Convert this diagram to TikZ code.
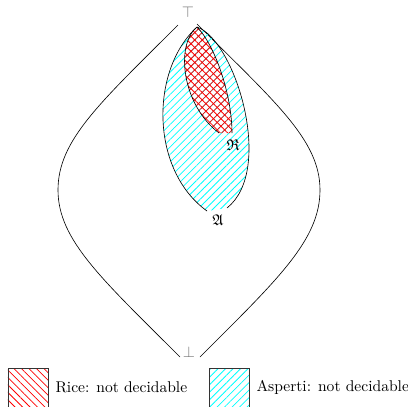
\documentclass[tikz,border=0pt]{standalone}
\usepackage{amssymb}
\usetikzlibrary{patterns.meta}

\tikzset{
	nwhatch/.style={pattern={Lines[angle=-45,distance=3.4pt,line width=0.5pt]}},
	nehatch/.style={pattern={Lines[angle=45,distance=3.4pt,line width=0.5pt]}},
	rice/.style={nwhatch,pattern color=red},
	asperti/.style={nehatch,pattern color=cyan},
	ricebox/.style={draw=black!80,rice},
	aspertibox/.style={draw=black!80,asperti},
	lattice/.style={text=black!55}
}

\begin{document}
\begin{tikzpicture}[x=0.642pt,y=-0.642pt]
			\useasboundingbox (0,0) rectangle (408,407);

			\node[lattice] (top) at (188,12) {$\top$};
			\node[lattice] (bot) at (189,352) {$\bot$};

			% the whole lattice
			\draw (178,25) .. controls (100,103) and (58,140) .. (58,190) .. controls (58,240) and (102,279) .. (180,357);
			\draw (197,24) .. controls (275,102) and (320,140) .. (320,190) .. controls (320,240) and (278,279) .. (200,357);

			% Asperti
			\fill[asperti] (197,27) .. controls (150,70) and (150,170) .. (207,211) -- (227,208) .. controls (275,170) and (235,40) .. (197,27);
			\draw (197,27) .. controls (150,70) and (150,170) .. (207,211);
			\draw (197,27) .. controls (235,40) and (275,170) .. (227,208);
			\node (A) at (218,220) {$\mathfrak{A}$};

			% Rice
			\fill[rice] (197,27) .. controls (175,45) and (182,105) .. (219,133) -- (232,133) .. controls (232,95) and (215,45) .. (197,27);
			\fill[nehatch,pattern color=red] (197,27) .. controls (175,45) and (182,105) .. (219,133) -- (232,133) .. controls (232,95) and (215,45) .. (197,27);
			\draw (197,27) .. controls (175,45) and (182,105) .. (219,133);
			\draw (197,27) .. controls (215,45) and (232,95) .. (232,133);
			\node (R) at (233,145) {$\mathfrak{R}$};

			% legend
			\draw[ricebox] (8,368) rectangle (48,410);
			\node[anchor=west] (ricetext) at (50,387) {Rice: not decidable};
			\draw[aspertibox] (209,368) rectangle (249,410);
			\node[anchor=west] (aspertitext) at (251,387) {Asperti: not decidable};

			% \draw[help lines,step=10] (0,0) grid (408,407);
\end{tikzpicture}
\end{document}
